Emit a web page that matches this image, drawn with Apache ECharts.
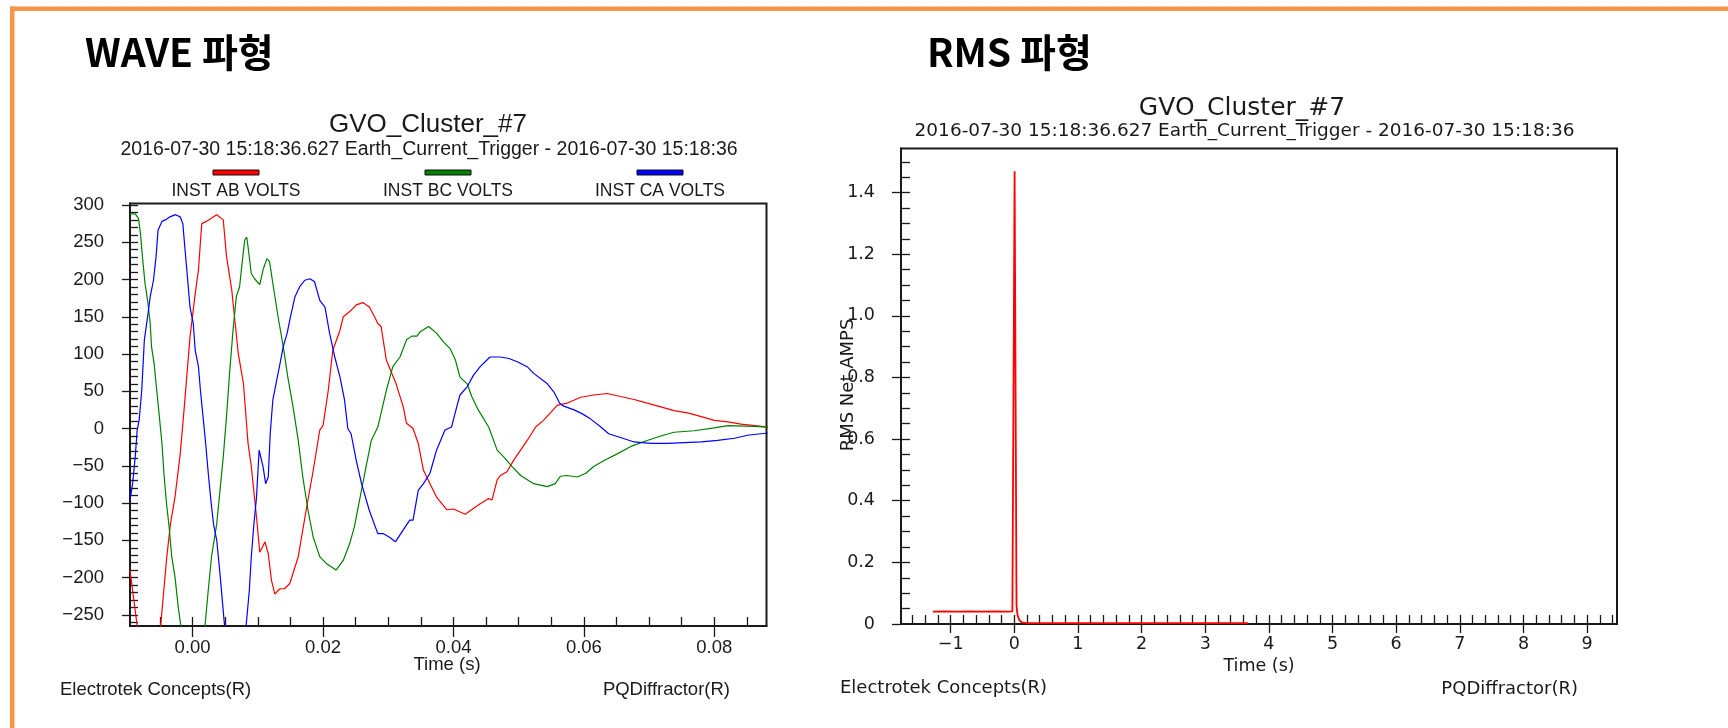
<!DOCTYPE html>
<html><head><meta charset="utf-8">
<script src="https://cdn.jsdelivr.net/npm/echarts@6/dist/echarts.min.js"></script>
<style>html,body{margin:0;padding:0;background:#fff}#c{width:1728px;height:728px}</style>
</head><body><div id="c"></div>
<script>
// ---------- texts ----------
const waveHeading = 'WAVE 파형';
const rmsHeading = 'RMS 파형';
const chartTitle = 'GVO_Cluster_#7';
const chartSubtitle = '2016-07-30 15:18:36.627 Earth_Current_Trigger - 2016-07-30 15:18:36';
const timeLabel = 'Time (s)';
const leftFooter = 'Electrotek Concepts(R)';
const rightFooter = 'PQDiffractor(R)';
const rmsAxisName = 'RMS Net AMPS';

// ---------- WAVE data [time s, volts] ----------
const waveSeriesNames = ['INST AB VOLTS', 'INST BC VOLTS', 'INST CA VOLTS'];
const waveColors = ['#ff0000', '#008000', '#0000ff'];
const abVolts = [[-0.0096,-190],[-0.0085,-265],[-0.0076,-284],[-0.0067,-290],[-0.0058,-284],[-0.0049,-265],[-0.0040,-176],[-0.0034,-128],[-0.0027,-92],[-0.0019,-34],[-0.0014,16],[-0.0009,69],[-0.0004,123],[0.0004,181],[0.0009,213],[0.0014,275],[0.0021,278],[0.0037,287],[0.0047,280],[0.0052,231],[0.0060,186],[0.0070,101],[0.0078,60],[0.0085,-20],[0.0090,-51],[0.0098,-119],[0.0103,-166],[0.0111,-152],[0.0116,-168],[0.0121,-204],[0.0126,-222],[0.0134,-215],[0.0141,-215],[0.0149,-208],[0.0162,-172],[0.0174,-110],[0.0185,-56],[0.0195,-2],[0.0200,4],[0.0208,51],[0.0215,105],[0.0226,132],[0.0231,150],[0.0241,157],[0.0251,166],[0.0261,169],[0.0271,163],[0.0279,150],[0.0284,141],[0.0289,137],[0.0297,92],[0.0312,60],[0.0323,29],[0.0328,7],[0.0338,0],[0.0346,-20],[0.0354,-56],[0.0364,-74],[0.0374,-92],[0.0390,-109],[0.0400,-108],[0.0418,-115],[0.0431,-107],[0.0441,-101],[0.0454,-94],[0.0459,-96],[0.0467,-69],[0.0472,-63],[0.0482,-58],[0.0492,-43],[0.0513,-16],[0.0526,2],[0.0538,11],[0.0559,31],[0.0574,34],[0.0595,42],[0.0615,45],[0.0636,47],[0.0656,43],[0.0677,39],[0.0697,34],[0.0718,29],[0.0738,24],[0.0759,21],[0.0780,16],[0.0800,11],[0.0821,9],[0.0841,6],[0.0862,4],[0.0882,2]];
const bcVolts = [[-0.0096,288],[-0.0088,288],[-0.0083,282],[-0.0080,262],[-0.0077,231],[-0.0073,195],[-0.0069,172],[-0.0065,141],[-0.0063,110],[-0.0059,87],[-0.0055,51],[-0.0051,16],[-0.0047,-20],[-0.0044,-60],[-0.0040,-101],[-0.0036,-132],[-0.0032,-172],[-0.0027,-199],[-0.0022,-240],[-0.0018,-265],[-0.0009,-284],[0.0000,-290],[0.0010,-283],[0.0019,-265],[0.0024,-217],[0.0029,-172],[0.0037,-128],[0.0042,-83],[0.0047,-38],[0.0052,16],[0.0057,78],[0.0062,132],[0.0067,177],[0.0072,190],[0.0077,231],[0.0080,253],[0.0083,257],[0.0085,244],[0.0090,208],[0.0095,201],[0.0103,193],[0.0108,213],[0.0114,228],[0.0118,224],[0.0123,195],[0.0131,150],[0.0139,110],[0.0146,69],[0.0154,29],[0.0162,-16],[0.0169,-65],[0.0177,-110],[0.0185,-146],[0.0195,-172],[0.0205,-181],[0.0220,-190],[0.0231,-177],[0.0241,-154],[0.0248,-132],[0.0256,-96],[0.0266,-51],[0.0274,-16],[0.0284,2],[0.0297,51],[0.0307,83],[0.0318,96],[0.0328,119],[0.0336,124],[0.0344,124],[0.0349,130],[0.0362,137],[0.0374,128],[0.0385,116],[0.0395,107],[0.0403,92],[0.0410,69],[0.0421,60],[0.0428,43],[0.0438,25],[0.0454,2],[0.0467,-29],[0.0477,-38],[0.0490,-51],[0.0503,-63],[0.0523,-74],[0.0544,-78],[0.0556,-74],[0.0564,-64],[0.0574,-63],[0.0590,-65],[0.0603,-60],[0.0615,-51],[0.0631,-43],[0.0651,-34],[0.0672,-24],[0.0697,-16],[0.0718,-10],[0.0738,-5],[0.0769,-3],[0.0800,1],[0.0821,4],[0.0862,3],[0.0882,2]];
const caVolts = [[-0.0096,-96],[-0.0092,-74],[-0.0088,-38],[-0.0085,-2],[-0.0082,11],[-0.0078,51],[-0.0074,119],[-0.0069,150],[-0.0065,177],[-0.0060,199],[-0.0056,231],[-0.0053,266],[-0.0047,278],[-0.0042,280],[-0.0035,284],[-0.0026,287],[-0.0019,284],[-0.0015,275],[-0.0012,244],[-0.0008,204],[-0.0004,163],[0.0001,141],[0.0004,105],[0.0009,83],[0.0012,51],[0.0016,16],[0.0020,-20],[0.0024,-60],[0.0028,-96],[0.0032,-128],[0.0037,-150],[0.0042,-195],[0.0046,-235],[0.0049,-265],[0.0057,-284],[0.0066,-290],[0.0075,-283],[0.0082,-265],[0.0087,-217],[0.0090,-172],[0.0094,-128],[0.0098,-92],[0.0102,-29],[0.0105,-27],[0.0108,-51],[0.0112,-74],[0.0116,-65],[0.0119,-7],[0.0123,38],[0.0129,65],[0.0134,87],[0.0139,110],[0.0145,128],[0.0150,150],[0.0157,177],[0.0164,190],[0.0172,199],[0.0180,201],[0.0187,197],[0.0195,172],[0.0203,163],[0.0210,128],[0.0218,96],[0.0226,69],[0.0233,38],[0.0238,0],[0.0243,-7],[0.0251,-43],[0.0259,-74],[0.0271,-110],[0.0284,-141],[0.0292,-141],[0.0302,-146],[0.0311,-152],[0.0326,-132],[0.0333,-123],[0.0338,-123],[0.0346,-83],[0.0354,-74],[0.0364,-60],[0.0374,-29],[0.0387,-2],[0.0397,2],[0.0405,29],[0.0410,45],[0.0421,56],[0.0431,72],[0.0441,83],[0.0449,90],[0.0456,96],[0.0472,96],[0.0485,94],[0.0497,90],[0.0513,83],[0.0523,74],[0.0544,60],[0.0554,49],[0.0563,34],[0.0569,30],[0.0585,25],[0.0597,20],[0.0610,13],[0.0626,2],[0.0638,-7],[0.0656,-12],[0.0677,-18],[0.0703,-20],[0.0728,-20],[0.0754,-19],[0.0780,-18],[0.0805,-16],[0.0831,-13],[0.0851,-9],[0.0882,-6]];
const waveXRange = [-0.0096, 0.0880];
const waveYRange = [-265, 302];
const waveXTicks = [0, 0.02, 0.04, 0.06, 0.08];
const waveYTicks = [-250, -200, -150, -100, -50, 0, 50, 100, 150, 200, 250, 300];

// ---------- RMS data [time s, amps] ----------
const rmsColor = '#ff0000';
const rmsAmps = [[-1.28,0.040],[-1.1,0.041],[-0.9,0.040],[-0.7,0.041],[-0.5,0.040],[-0.3,0.041],[-0.1,0.040],[-0.03,0.041],[0.005,1.469],[0.035,0.06],[0.05,0.03],[0.08,0.012],[0.12,0.005],[0.2,0.003],[1.0,0.003],[2.0,0.003],[3.0,0.003],[3.67,0.003]];
const rmsXRange = [-1.78, 9.47];
const rmsYRange = [0, 1.543];
const rmsXTicks = [-1, 0, 1, 2, 3, 4, 5, 6, 7, 8, 9];
const rmsYTicks = [0, 0.2, 0.4, 0.6, 0.8, 1.0, 1.2, 1.4];

// ---------- helpers ----------
function steps(from, to, step, dec) {
  const out = []; const n = Math.round((to - from) / step);
  for (let i = 0; i <= n; i++) out.push(+(from + i * step).toFixed(dec));
  return out;
}
const waveXMinor = steps(-0.005, 0.085, 0.005, 4);
const waveYMinor = steps(-260, 300, 10, 0);
const rmsXMinor = steps(-1.6, 9.4, 0.2, 1);
const rmsYMinor = steps(0.05, 1.5, 0.05, 2);

const LF = '"Liberation Sans", Arial, sans-serif';
const RF = '"DejaVu Sans", sans-serif';
const INK = '#1a1a1a';
const minus = s => s.replace('-', '\u2212');

function mainAxis(gridIndex, pos, range, ticks, fmt, font, size, margin, tickLen, extra) {
  return Object.assign({
    type: 'value', gridIndex, position: pos, min: range[0], max: range[1],
    axisLine: { show: true, onZero: false, lineStyle: { color: INK, width: 2 } },
    axisTick: { show: true, inside: false, length: tickLen, customValues: ticks, lineStyle: { color: INK, width: 1.3 } },
    axisLabel: { show: true, customValues: ticks, formatter: fmt, fontFamily: font, fontSize: size, color: INK, margin },
    splitLine: { show: false }
  }, extra || {});
}
function minorAxis(gridIndex, pos, range, ticks, len) {
  return {
    type: 'value', gridIndex, position: pos, min: range[0], max: range[1],
    axisLine: { show: false, onZero: false },
    axisTick: { show: true, inside: true, length: len, customValues: ticks, lineStyle: { color: INK, width: 1.3 } },
    axisLabel: { show: false }, splitLine: { show: false }
  };
}

const chart = echarts.init(document.getElementById('c'), null, { renderer: 'canvas' });

const legendGraphics = [];
const legendX = [236, 448, 660];
waveSeriesNames.forEach((n, i) => {
  legendGraphics.push({ type: 'rect', shape: { x: legendX[i] - 23, y: 170, width: 46, height: 5 },
    style: { fill: waveColors[i], stroke: '#111', lineWidth: 1 } });
  legendGraphics.push({ type: 'text', style: { text: n, x: legendX[i], y: 191.5, textAlign: 'center', textVerticalAlign: 'middle',
    font: '17.5px ' + LF, fill: INK } });
});

const option = {
  animation: false,
  backgroundColor: '#ffffff',
  grid: [
    { left: 130, top: 203.5, width: 636.5, height: 422.5, show: true, borderColor: INK, borderWidth: 2 },
    { left: 901, top: 148.5, width: 716, height: 475.5, show: true, borderColor: INK, borderWidth: 2 }
  ],
  xAxis: [
    mainAxis(0, 'bottom', waveXRange, waveXTicks, v => v.toFixed(2), LF, 18.5, 12, 11),
    minorAxis(0, 'bottom', waveXRange, waveXMinor, 9),
    mainAxis(1, 'bottom', rmsXRange, rmsXTicks, v => minus(String(v)), RF, 17.5, 11, 9,
      { name: timeLabel, nameLocation: 'middle', nameGap: 31, nameTextStyle: { fontFamily: RF, fontSize: 17.5, color: INK } }),
    minorAxis(1, 'bottom', rmsXRange, rmsXMinor, 9)
  ],
  yAxis: [
    mainAxis(0, 'left', waveYRange, waveYTicks, v => minus(String(v)), LF, 18.5, 26, 8),
    minorAxis(0, 'left', waveYRange, waveYMinor, 8),
    mainAxis(1, 'left', rmsYRange, rmsYTicks, v => (v === 0 ? '0' : v.toFixed(1)), RF, 17.5, 26, 9),
    minorAxis(1, 'left', rmsYRange, rmsYMinor, 9)
  ],
  series: [
    { type: 'line', name: waveSeriesNames[0], data: abVolts, xAxisIndex: 0, yAxisIndex: 0, showSymbol: false, symbol: 'none', clip: true, lineStyle: { color: waveColors[0], width: 1.2 }, itemStyle: { color: waveColors[0] } },
    { type: 'line', name: waveSeriesNames[1], data: bcVolts, xAxisIndex: 0, yAxisIndex: 0, showSymbol: false, symbol: 'none', clip: true, lineStyle: { color: waveColors[1], width: 1.2 }, itemStyle: { color: waveColors[1] } },
    { type: 'line', name: waveSeriesNames[2], data: caVolts, xAxisIndex: 0, yAxisIndex: 0, showSymbol: false, symbol: 'none', clip: true, lineStyle: { color: waveColors[2], width: 1.2 }, itemStyle: { color: waveColors[2] } },
    { type: 'line', name: rmsAxisName, data: rmsAmps, xAxisIndex: 2, yAxisIndex: 2, showSymbol: false, symbol: 'none', clip: true, lineStyle: { color: rmsColor, width: 1.8 }, itemStyle: { color: rmsColor } }
  ],
  graphic: [
    { type: 'rect', shape: { x: 10, y: 6.5, width: 1718, height: 4.5 }, style: { fill: '#f79646' } },
    { type: 'rect', shape: { x: 10, y: 6.5, width: 4.5, height: 722 }, style: { fill: '#f79646' } },
    { type: 'text', style: { text: waveHeading, x: 85, y: 52, textAlign: 'left', textVerticalAlign: 'middle', font: 'bold 39px "Noto Sans CJK KR", sans-serif', fill: '#000' } },
    { type: 'text', style: { text: rmsHeading, x: 927, y: 52, textAlign: 'left', textVerticalAlign: 'middle', font: 'bold 39px "Noto Sans CJK KR", sans-serif', fill: '#000' } },
    { type: 'text', style: { text: chartTitle, x: 428, y: 125, textAlign: 'center', textVerticalAlign: 'middle', font: '26px ' + LF, fill: INK } },
    { type: 'text', style: { text: chartSubtitle, x: 429, y: 150, textAlign: 'center', textVerticalAlign: 'middle', font: '19.5px ' + LF, fill: INK } },
    { type: 'text', style: { text: timeLabel, x: 447, y: 665, textAlign: 'center', textVerticalAlign: 'middle', font: '18.5px ' + LF, fill: INK } },
    { type: 'text', style: { text: chartTitle, x: 1242, y: 108.5, textAlign: 'center', textVerticalAlign: 'middle', font: '25px ' + RF, fill: INK } },
    { type: 'text', style: { text: chartSubtitle, x: 1244.5, y: 131, textAlign: 'center', textVerticalAlign: 'middle', font: '18.5px ' + RF, fill: INK } },
    { type: 'text', style: { text: leftFooter, x: 60, y: 690, textAlign: 'left', textVerticalAlign: 'middle', font: '18.5px ' + LF, fill: INK } },
    { type: 'text', style: { text: rightFooter, x: 730, y: 690, textAlign: 'right', textVerticalAlign: 'middle', font: '18.5px ' + LF, fill: INK } },
    { type: 'text', style: { text: leftFooter, x: 840, y: 688, textAlign: 'left', textVerticalAlign: 'middle', font: '18px ' + RF, fill: INK } },
    { type: 'text', style: { text: rightFooter, x: 1578, y: 689, textAlign: 'right', textVerticalAlign: 'middle', font: '18px ' + RF, fill: INK } },
    { type: 'text', rotation: Math.PI / 2, x: 848, y: 385, style: { text: rmsAxisName, x: 0, y: 0, textAlign: 'center', textVerticalAlign: 'middle', font: '18px ' + RF, fill: INK } }
  ].concat(legendGraphics)
};
chart.setOption(option);
</script>
</body></html>
